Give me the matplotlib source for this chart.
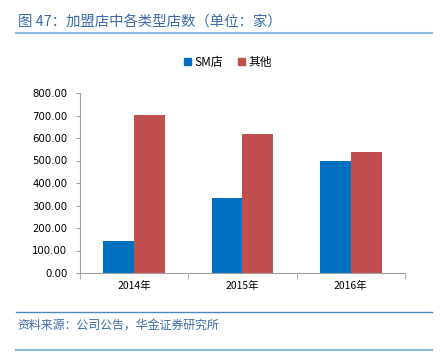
import numpy as np
import matplotlib
matplotlib.use('Agg')
import matplotlib.pyplot as plt
from matplotlib.patches import Patch
from matplotlib.lines import Line2D

plt.rcParams['font.family'] = ['Noto Sans CJK SC', 'DejaVu Sans']

years = ['2014年', '2015年', '2016年']
sm_stores = [142, 333, 500]
other_stores = [702, 617, 540]
yticks = [0, 100, 200, 300, 400, 500, 600, 700, 800]

blue = '#0070C0'
red = '#C0504D'

fig = plt.figure(figsize=(4.41, 3.6), dpi=100)
ax = fig.add_axes([80 / 441, 87 / 360, 325 / 441, 180 / 360])

x = np.arange(len(years))
w = 0.285
ax.bar(x - w / 2, sm_stores, w, color=blue, label='SM店')
ax.bar(x + w / 2, other_stores, w, color=red, label='其他')

ax.set_xlim(-0.5, len(years) - 0.5)
ax.set_ylim(0, 800)
ax.set_yticks(yticks)
ax.set_yticklabels(['%.2f' % v for v in yticks], fontsize=7.3, family='DejaVu Sans')
ax.set_xticks(x)
ax.set_xticklabels(years, fontsize=7.5)
ax.set_xticks(np.arange(len(years) + 1) - 0.5, minor=True)
ax.tick_params(axis='x', which='major', length=0, pad=6)
ax.tick_params(axis='x', which='minor', length=4, color='#A0A0A0', direction='out')
ax.tick_params(axis='y', length=3, color='#A0A0A0', direction='out', pad=6)
for s in ['top', 'right']:
    ax.spines[s].set_visible(False)
for s in ['left', 'bottom']:
    ax.spines[s].set_color('#A0A0A0')
    ax.spines[s].set_linewidth(0.8)

handles = [Patch(color=blue, label='SM店'), Patch(color=red, label='其他')]
fig.legend(handles=handles, loc='center', bbox_to_anchor=(228 / 441, 1 - 62 / 360),
           ncol=2, frameon=False, fontsize=8.5, handlelength=0.6, handleheight=0.6,
           handletextpad=0.3, columnspacing=1.2)

fig.text(18 / 441, 1 - 22 / 360, '图 47：加盟店中各类型店数（单位：家）',
         fontsize=10.4, color='#3A6BA8', va='center', ha='left')
fig.add_artist(Line2D([16 / 441, 432 / 441], [1 - 33 / 360, 1 - 33 / 360],
                      color='#8DB9E0', lw=1.5))
fig.add_artist(Line2D([16 / 441, 432 / 441], [1 - 312 / 360, 1 - 312 / 360],
                      color='#4A86C0', lw=1.0))
fig.text(17 / 441, 1 - 325 / 360, '资料来源：公司公告，华金证券研究所',
         fontsize=8.6, color='#3A6BA8', va='center', ha='left', style='italic')
fig.add_artist(Line2D([16 / 441, 432 / 441], [1 - 350 / 360, 1 - 350 / 360],
                      color='#8DB9E0', lw=1.5))

fig.savefig('out.png', dpi=100)
